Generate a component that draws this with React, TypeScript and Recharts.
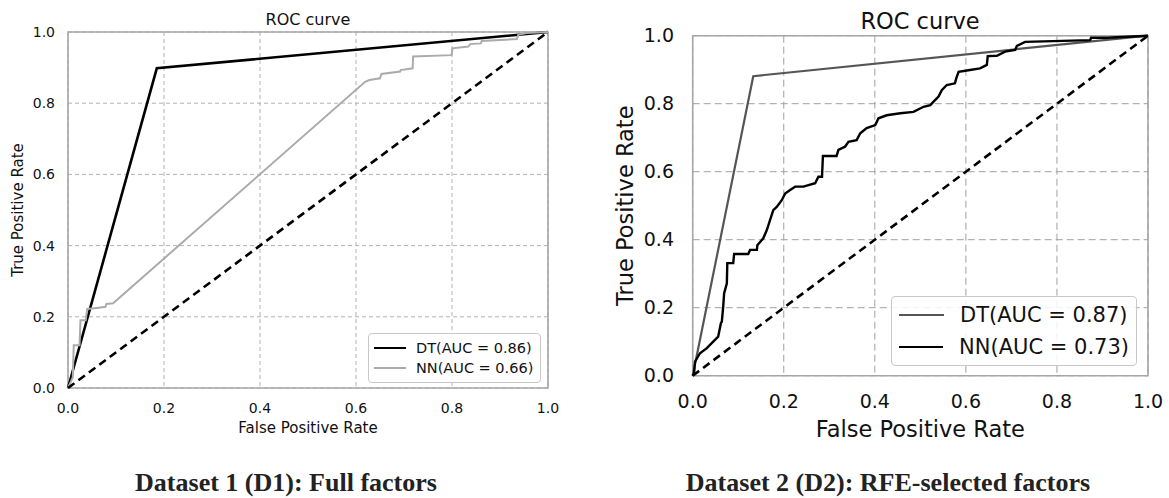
import {
  LineChart,
  Line,
  XAxis,
  YAxis,
  CartesianGrid,
  ReferenceArea,
  Legend,
} from "recharts";

// axis ticks shared by both panels
const TICKS = [0, 0.2, 0.4, 0.6, 0.8, 1.0];

// chance line
const DIAG_FPR = [0, 1];
const DIAG_TPR = [0, 1];

// Dataset 1 (full factors)
const D1_DT_FPR = [0, 0.185, 1];
const D1_DT_TPR = [0, 0.898, 1];
const D1_NN_FPR = [
  0, 0.01, 0.012, 0.024, 0.026, 0.037, 0.04, 0.06, 0.078, 0.08, 0.094, 0.619, 0.628, 0.65,
  0.653, 0.692, 0.693, 0.718, 0.719, 0.799, 0.801, 0.834, 0.838, 0.86, 0.862, 0.935, 0.938,
  0.955, 1,
];
const D1_NN_TPR = [
  0, 0.03, 0.12, 0.12, 0.19, 0.19, 0.222, 0.225, 0.228, 0.236, 0.238, 0.86, 0.865, 0.87,
  0.882, 0.889, 0.893, 0.898, 0.931, 0.935, 0.954, 0.959, 0.966, 0.968, 0.975, 0.98, 0.992,
  0.997, 1,
];

// Dataset 2 (RFE-selected factors)
const D2_DT_FPR = [0, 0.133, 1];
const D2_DT_TPR = [0, 0.881, 1];
const D2_NN_FPR = [
  0, 0.003, 0.005, 0.016, 0.031, 0.045, 0.056, 0.062, 0.064, 0.067, 0.069, 0.075, 0.076,
  0.089, 0.091, 0.122, 0.126, 0.141, 0.142, 0.155, 0.163, 0.17, 0.177, 0.185, 0.196, 0.203,
  0.214, 0.225, 0.243, 0.269, 0.276, 0.284, 0.286, 0.316, 0.32, 0.335, 0.342, 0.36, 0.368,
  0.382, 0.401, 0.408, 0.426, 0.456, 0.485, 0.507, 0.522, 0.529, 0.54, 0.547, 0.558, 0.576,
  0.579, 0.584, 0.609, 0.631, 0.646, 0.648, 0.668, 0.686, 0.708, 0.712, 0.73, 0.873, 0.875,
  0.91, 1,
];
const D2_NN_TPR = [
  0, 0.007, 0.041, 0.066, 0.081, 0.1, 0.115, 0.155, 0.159, 0.203, 0.242, 0.272, 0.331,
  0.331, 0.358, 0.358, 0.37, 0.37, 0.384, 0.404, 0.429, 0.458, 0.487, 0.497, 0.517, 0.536,
  0.546, 0.556, 0.556, 0.566, 0.585, 0.585, 0.646, 0.646, 0.664, 0.674, 0.688, 0.693, 0.713,
  0.728, 0.737, 0.757, 0.766, 0.772, 0.776, 0.791, 0.796, 0.806, 0.821, 0.84, 0.855, 0.86,
  0.875, 0.894, 0.899, 0.904, 0.914, 0.94, 0.941, 0.953, 0.958, 0.97, 0.982, 0.987, 0.994,
  0.994, 1,
];

const LABELS_D1 = ["DT(AUC = 0.86)", "NN(AUC = 0.66)"];
const LABELS_D2 = ["DT(AUC = 0.87)", "NN(AUC = 0.73)"];
const CAPTIONS = ["Dataset 1 (D1): Full factors", "Dataset 2 (D2): RFE-selected factors"];

const FONT = "'DejaVu Sans', sans-serif";

const pts = (fpr: number[], tpr: number[]) => fpr.map((x, i) => ({ fpr: x, tpr: tpr[i] }));

type Series = { name: string; data: { fpr: number; tpr: number }[]; color: string; width: number };

type PanelProps = {
  left: number;
  width: number;
  height: number;
  margin: { top: number; right: number; bottom: number; left: number };
  yAxisWidth: number;
  xAxisHeight: number;
  tickFont: number;
  labelFont: number;
  tickMarginX: number;
  tickMarginY: number;
  yLabelOffset: number;
  gridDash: string;
  gridColor: string;
  series: Series[];
  legend: { left: number; top: number; width: number; font: number; row: number; line: number; gap: number; padX: number; padY: number };
};

function RocPanel(p: PanelProps) {
  const tickStyle = { fontSize: p.tickFont, fontFamily: FONT, fill: "#111" };
  const lg = p.legend;
  const renderLegend = (props: any) => {
    const items = (props.payload || []).filter((it: any) => it.type !== "none");
    return (
      <div
        style={{
          boxSizing: "border-box",
          width: lg.width,
          border: "1.2px solid #c8c8c8",
          borderRadius: 4,
          background: "rgba(255,255,255,0.85)",
          padding: `${lg.padY}px ${lg.padX}px`,
          fontFamily: FONT,
          fontSize: lg.font,
          color: "#111",
        }}
      >
        {items.map((it: any) => {
          const s = p.series.find((x) => x.name === it.value);
          return (
            <div key={it.value} style={{ display: "flex", alignItems: "center", height: lg.row, whiteSpace: "nowrap" }}>
              <span
                style={{
                  display: "inline-block",
                  width: lg.line,
                  borderTop: `${s ? s.width : 2}px solid ${it.color}`,
                  marginRight: lg.gap,
                }}
              />
              <span>{it.value}</span>
            </div>
          );
        })}
      </div>
    );
  };

  return (
    <div style={{ position: "absolute", left: p.left, top: 0 }}>
      <LineChart width={p.width} height={p.height} margin={p.margin}>
        <CartesianGrid strokeDasharray={p.gridDash} stroke={p.gridColor} strokeWidth={1} />
        <XAxis
          type="number"
          dataKey="fpr"
          domain={[0, 1]}
          ticks={TICKS}
          tickFormatter={(v: number) => v.toFixed(1)}
          axisLine={false}
          tickLine={false}
          tickMargin={p.tickMarginX}
          height={p.xAxisHeight}
          tick={tickStyle}
          label={{
            value: "False Positive Rate",
            position: "insideBottom",
            offset: 0,
            style: { fontSize: p.labelFont, fontFamily: FONT, fill: "#111" },
          }}
        />
        <YAxis
          type="number"
          domain={[0, 1]}
          ticks={TICKS}
          tickFormatter={(v: number) => v.toFixed(1)}
          axisLine={false}
          tickLine={false}
          tickMargin={p.tickMarginY}
          width={p.yAxisWidth}
          tick={tickStyle}
          label={{
            value: "True Positive Rate",
            angle: -90,
            position: "insideLeft",
            offset: p.yLabelOffset,
            style: { textAnchor: "middle", fontSize: p.labelFont, fontFamily: FONT, fill: "#111" },
          }}
        />
        <ReferenceArea x1={0} x2={1} y1={0} y2={1} fill="none" stroke="#a6a6a6" strokeWidth={1.6} />
        {p.series.map((s) => (
          <Line
            key={s.name}
            data={s.data}
            dataKey="tpr"
            name={s.name}
            type="linear"
            stroke={s.color}
            strokeWidth={s.width}
            dot={false}
            activeDot={false}
            isAnimationActive={false}
          />
        ))}
        <Line
          data={pts(DIAG_FPR, DIAG_TPR)}
          dataKey="tpr"
          name="chance"
          type="linear"
          stroke="#000"
          strokeWidth={2.6}
          strokeDasharray="8 5"
          legendType="none"
          dot={false}
          activeDot={false}
          isAnimationActive={false}
        />
        <Legend
          layout="vertical"
          align="center"
          verticalAlign="middle"
          content={renderLegend}
          wrapperStyle={{ left: lg.left, top: lg.top, width: lg.width, height: "auto" }}
        />
      </LineChart>
    </div>
  );
}

export default function App() {
  return (
    <div style={{ position: "absolute", left: 0, top: 0, width: 1169, height: 498, background: "#fff", overflow: "hidden" }}>
      <RocPanel
        left={0}
        width={570}
        height={450}
        margin={{ top: 32, right: 22, bottom: 17, left: 0 }}
        yAxisWidth={68}
        xAxisHeight={45}
        tickFont={14}
        labelFont={15}
        tickMarginX={9}
        tickMarginY={7}
        yLabelOffset={17.5}
        gridDash="4 3"
        gridColor="#b3b3b3"
        series={[
          { name: LABELS_D1[0], data: pts(D1_DT_FPR, D1_DT_TPR), color: "#000", width: 2.6 },
          { name: LABELS_D1[1], data: pts(D1_NN_FPR, D1_NN_TPR), color: "#ababab", width: 2 },
        ]}
        legend={{ left: 368, top: 333, width: 173, font: 14.5, row: 20, line: 32, gap: 10, padX: 5, padY: 4 }}
      />
      <RocPanel
        left={600}
        width={569}
        height={450}
        margin={{ top: 35.7, right: 21, bottom: 13.3, left: 0 }}
        yAxisWidth={92.7}
        xAxisHeight={61}
        tickFont={19}
        labelFont={22.5}
        tickMarginX={13}
        tickMarginY={12.7}
        yLabelOffset={25}
        gridDash="7 4"
        gridColor="#a0a0a0"
        series={[
          { name: LABELS_D2[0], data: pts(D2_DT_FPR, D2_DT_TPR), color: "#555", width: 2.2 },
          { name: LABELS_D2[1], data: pts(D2_NN_FPR, D2_NN_TPR), color: "#000", width: 2.4 },
        ]}
        legend={{ left: 291, top: 296, width: 246, font: 21, row: 32, line: 45, gap: 16, padX: 7, padY: 2 }}
      />
      <div style={{ position: "absolute", left: 208, top: 11.5, width: 200, textAlign: "center", fontFamily: FONT, fontSize: 16, lineHeight: "16px", color: "#111" }}>
        ROC curve
      </div>
      <div style={{ position: "absolute", left: 820, top: 10, width: 200, textAlign: "center", fontFamily: FONT, fontSize: 22.5, lineHeight: "22.5px", color: "#111" }}>
        ROC curve
      </div>
      <div style={{ position: "absolute", left: 86, top: 470, width: 400, textAlign: "center", fontFamily: "'Liberation Serif', 'Times New Roman', serif", fontWeight: "bold", fontSize: 26, lineHeight: "26px", color: "#222" }}>
        {CAPTIONS[0]}
      </div>
      <div style={{ position: "absolute", left: 638, top: 470, width: 500, textAlign: "center", fontFamily: "'Liberation Serif', 'Times New Roman', serif", fontWeight: "bold", fontSize: 26, lineHeight: "26px", color: "#222" }}>
        {CAPTIONS[1]}
      </div>
    </div>
  );
}
